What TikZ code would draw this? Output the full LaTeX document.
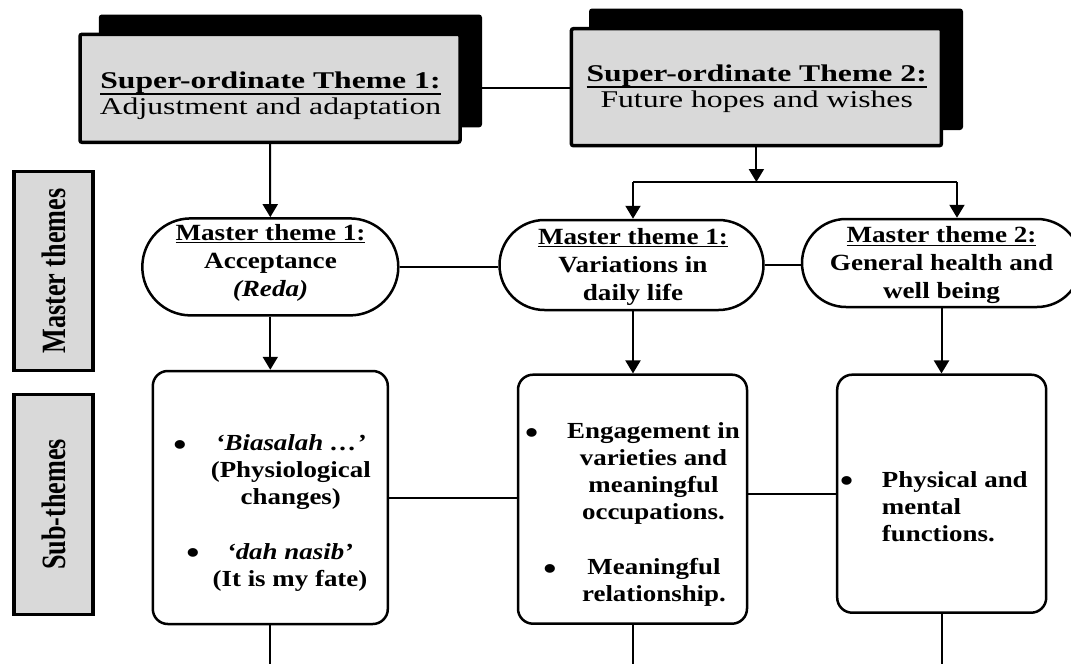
\documentclass[tikz,border=0pt]{standalone}
\usepackage{fontspec}
\setmainfont{Liberation Serif}[FakeStretch=1.17]
\newfontfamily\titlefont{Liberation Serif}[FakeStretch=1.32]
\newfontfamily\sidefont{Liberation Serif}[FakeStretch=0.77]
\usetikzlibrary{shapes.misc,arrows.meta,calc}
\definecolor{boxgray}{RGB}{217,217,217}
\newcommand\myul[1]{\setbox0\hbox{#1}\rlap{\rule[-6.5pt]{\wd0}{1.8pt}}\box0}
\tikzset{
  conn/.style={line width=2pt},
  arr/.style={conn,-{Triangle[width=15pt,length=13pt]}},
  front/.style={draw,line width=3.5pt,fill=boxgray,rounded corners=2pt,inner sep=0pt},
  shadowbox/.style={fill=black,rounded corners=3pt},
  pill/.style={draw,rounded rectangle,line width=2.5pt,fill=white,inner sep=0pt},
  subbox/.style={draw,rounded corners=15pt,line width=2.5pt,fill=white,inner sep=0pt},
  side/.style={draw,line width=3.5pt,fill=boxgray,inner sep=0pt,minimum width=79pt,
    font=\sidefont\fontsize{34}{38}\selectfont\bfseries},
  ttl/.style={font=\titlefont\fontsize{24}{26.5}\selectfont,align=center,inner sep=0pt},
  ptxt/.style={font=\fontsize{23.2}{28}\selectfont\bfseries,align=center,inner sep=0pt},
  stxt/.style={font=\fontsize{23}{27}\selectfont\bfseries,align=center,inner sep=0pt},
  bul/.style={font=\fontsize{32}{33}\selectfont\bfseries,inner sep=0pt},
}
\begin{document}
\begin{tikzpicture}[x=1pt,y=-1pt]
\useasboundingbox (0,0) rectangle (1071,664);
\clip (0,0) rectangle (1071,664);

% super-ordinate themes
\fill[shadowbox] (98.8,14.5) rectangle (482,127.4);
\node[front,minimum width=380pt,minimum height=108pt] (s1) at (270,88.3) {};
\node[ttl] (s1t) at (270.5,95.5) {\textbf{\myul{Super-ordinate Theme 1:}}\\Adjustment and adaptation};

\fill[shadowbox] (589,8.5) rectangle (963,130);
\node[front,minimum width=370pt,minimum height=117pt] (s2) at (756.4,87.2) {};
\node[ttl] (s2t) at (756.7,88.5) {\textbf{\myul{Super-ordinate Theme 2:}}\\Future hopes and wishes};

% side labels
\node[side,minimum height=199pt] (mt) at (53.5,271) {\rotatebox{90}{Master themes}};
\node[side,minimum height=220pt] (st) at (53.5,504.5) {\rotatebox{90}{Sub-themes}};

% master themes
\node[pill,minimum width=256pt,minimum height=97pt] (p1) at (270.3,266.9) {};
\node[ptxt] (p1t) at (270.5,262.5) {\underline{Master theme 1:}\\Acceptance\\\textit{(Reda)}};
\node[pill,minimum width=264pt,minimum height=90pt] (p2) at (631.5,265) {};
\node[ptxt] (p2t) at (633,266.5) {\underline{Master theme 1:}\\Variations in\\daily life};
\node[pill,minimum width=279pt,minimum height=88pt] (p3) at (941.5,263) {};
\node[ptxt] (p3t) at (941.5,265.5) {\underline{Master theme 2:}\\General health and\\well being};

% sub-themes
\node[subbox,minimum width=235pt,minimum height=253pt] (sb1) at (270.3,497.5) {};
\node[bul] (b1a) at (180,448) {•};
\node[stxt] (t1a) at (290.8,472) {\textit{‘Biasalah …’}\\(Physiological\\changes)};
\node[bul] (b1b) at (193,556) {•};
\node[stxt] (t1b) at (290,567) {\textit{‘dah nasib’}\\(It is my fate)};

\node[subbox,minimum width=229pt,minimum height=249pt] (sb2) at (632.5,499.2) {};
\node[bul] (b2a) at (531.7,436) {•};
\node[stxt] (t2a) at (653.5,473.5) {Engagement in\\varieties and\\meaningful\\occupations.};
\node[bul] (b2b) at (550,572) {•};
\node[stxt] (t2b) at (654,582) {Meaningful\\relationship.};

\node[subbox,minimum width=209pt,minimum height=238pt] (sb3) at (941.7,493.7) {};
\node[bul] (b3a) at (846.7,484) {•};
\node[stxt,align=left,anchor=west] (t3a) at (881.7,506.3) {Physical and\\mental\\functions.};

% coordinates
\coordinate (jl) at (633,182);
\coordinate (jr) at (957,182);
\coordinate (e1) at (270.3,664);
\coordinate (e2) at (633,664);
\coordinate (e3) at (941.7,664);

% connectors
\draw[conn] (s1.east) -- (s1.east -| s2.west);
\draw[arr] (s1.south) -- (p1.north);
\draw[arr] (s2.south) -- (s2.south |- jl);
\draw[conn] (jl) -- (jr);
\draw[arr] (jl) -- (jl |- p2.north);
\draw[arr] (jr) -- (jr |- p3.north);
\draw[conn] (p1.east) -- (p1.east -| p2.west);
\draw[conn] (p2.east) -- (p2.east -| p3.west);
\draw[arr] (p1.south) -- (p1.south |- sb1.north);
\draw[arr] (jl |- p2.south) -- (jl |- sb2.north);
\draw[arr] (p3.south) -- (p3.south |- sb3.north);
\draw[conn] (sb1.east) -- (sb1.east -| sb2.west);
\draw[conn] (sb2.east |- sb3.west) -- (sb3.west);
\draw[conn] (sb1.south) -- (e1);
\draw[conn] (jl |- sb2.south) -- (e2);
\draw[conn] (sb3.south) -- (e3);
\end{tikzpicture}
\end{document}
